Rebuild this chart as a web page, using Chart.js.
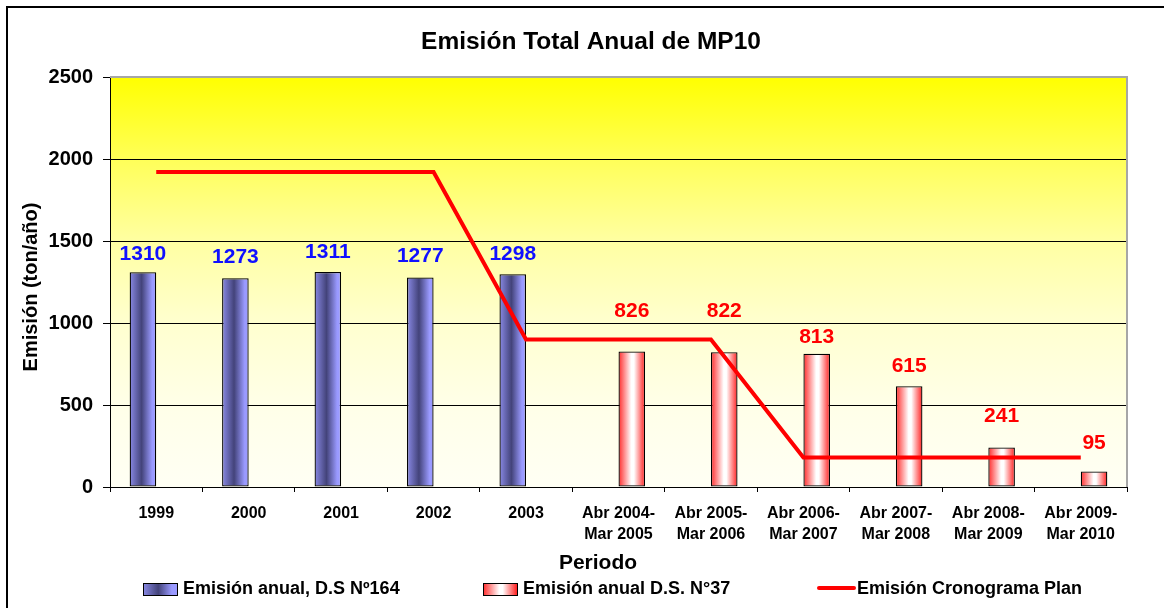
<!DOCTYPE html>
<html>
<head>
<meta charset="utf-8">
<script src="https://cdn.jsdelivr.net/npm/chart.js@4.4.1/dist/chart.umd.min.js"></script>
<style>
  html, body { margin: 0; padding: 0; background: #ffffff; }
  #wrap { width: 1164px; height: 608px; position: relative; }
</style>
</head>
<body>
<div id="wrap"><canvas id="c" width="1164" height="608"></canvas></div>
<script>
// ---- data ----
const categories = [
  '1999', '2000', '2001', '2002', '2003',
  ['Abr 2004-', 'Mar 2005'], ['Abr 2005-', 'Mar 2006'], ['Abr 2006-', 'Mar 2007'],
  ['Abr 2007-', 'Mar 2008'], ['Abr 2008-', 'Mar 2009'], ['Abr 2009-', 'Mar 2010']
];
const emisionDS164 = [1310, 1273, 1311, 1277, 1298, null, null, null, null, null, null];
const emisionDS37 = [null, null, null, null, null, 826, 822, 813, 615, 241, 95];
const cronogramaPlan = [1920, 1920, 1920, 1920, 900, 900, 900, 180, 180, 180, 180];
const seriesNames = ['Emisión anual, D.S Nº164', 'Emisión anual D.S. N°37', 'Emisión Cronograma Plan'];
const chartTitle = 'Emisión Total Anual de MP10';
const yTitle = 'Emisión (ton/año)';
const xTitle = 'Periodo';
const yMin = 0, yMax = 2500, yStep = 500;

// ---- styling helpers ----
const FONT = '"Liberation Sans", Arial, sans-serif';
// vertical lift (px) of each value label above its bar top
const labelLift = [
  [18, 21, 19.5, 21.5, 20, 0, 0, 0, 0, 0, 0],
  [0, 0, 0, 0, 0, 40, 41, 16, 20, 31, 28]
];

function blueGrad(ctx, x0, x1) {
  const g = ctx.createLinearGradient(x0, 0, x1, 0);
  g.addColorStop(0, '#8a8ae6');
  g.addColorStop(0.45, '#43437a');
  g.addColorStop(0.85, '#9a9aff');
  g.addColorStop(1, '#9a9aff');
  return g;
}
function redGrad(ctx, x0, x1) {
  const g = ctx.createLinearGradient(x0, 0, x1, 0);
  g.addColorStop(0, '#ff2a2a');
  g.addColorStop(0.48, '#ffffff');
  g.addColorStop(0.58, '#ffffff');
  g.addColorStop(1, '#ff2020');
  return g;
}

const decorPlugin = {
  id: 'decor',
  beforeDraw(chart) {
    const {ctx, chartArea: a} = chart;
    ctx.save();
    ctx.fillStyle = '#ffffff';
    ctx.fillRect(0, 0, chart.width, chart.height);
    const g = ctx.createLinearGradient(0, a.top, 0, a.bottom);
    g.addColorStop(0, '#ffff00');
    g.addColorStop(0.2, '#ffff58');
    g.addColorStop(0.4, '#ffffa2');
    g.addColorStop(0.6, '#ffffcf');
    g.addColorStop(0.8, '#ffffe8');
    g.addColorStop(1, '#fffff4');
    ctx.fillStyle = g;
    ctx.fillRect(a.left, a.top, a.right - a.left, a.bottom - a.top);
    // outer frame (left and top)
    ctx.strokeStyle = '#000000';
    ctx.lineWidth = 2;
    ctx.beginPath();
    ctx.moveTo(7, chart.height);
    ctx.lineTo(7, 7);
    ctx.lineTo(chart.width, 7);
    ctx.stroke();
    ctx.restore();
  },
  beforeDatasetsDraw(chart) {
    const {ctx, chartArea: a} = chart;
    ctx.save();
    ctx.strokeStyle = '#a6a6a6';
    ctx.lineWidth = 2;
    ctx.beginPath();
    ctx.moveTo(a.left, a.top);
    ctx.lineTo(a.right, a.top);
    ctx.lineTo(a.right, a.bottom);
    ctx.stroke();
    ctx.restore();
  },
  beforeDatasetDraw(chart, args) {
    const meta = args.meta;
    if (meta.type !== 'bar') return;
    const ctx = chart.ctx;
    meta.data.forEach((el) => {
      const p = el.getProps(['x', 'width'], true);
      if (!isFinite(p.x) || !isFinite(p.width)) return;
      const x0 = p.x - p.width / 2, x1 = p.x + p.width / 2;
      el.options.backgroundColor = args.index === 0 ? blueGrad(ctx, x0, x1) : redGrad(ctx, x0, x1);
    });
  },
  afterDatasetsDraw(chart) {
    const ctx = chart.ctx;
    const y = chart.scales.y;
    ctx.save();
    ctx.font = 'bold 21px ' + FONT;
    ctx.textAlign = 'center';
    ctx.textBaseline = 'middle';
    [0, 1].forEach((di) => {
      const meta = chart.getDatasetMeta(di);
      const data = chart.data.datasets[di].data;
      ctx.fillStyle = di === 0 ? '#1010ff' : '#ff0000';
      meta.data.forEach((el, i) => {
        const v = data[i];
        if (v === null || v === undefined) return;
        const top = y.getPixelForValue(v);
        ctx.fillText(String(v), el.x, top - labelLift[di][i]);
      });
    });
    ctx.restore();
  },
  afterDraw(chart) {
    const ctx = chart.ctx;
    ctx.save();
    ctx.fillStyle = '#000000';
    ctx.textBaseline = 'middle';
    ctx.textAlign = 'center';
    // title
    ctx.font = 'bold 24.5px ' + FONT;
    ctx.fillText(chartTitle, 591, 42);
    // x title
    ctx.font = 'bold 21px ' + FONT;
    ctx.fillText(xTitle, 598, 563);
    // y title
    ctx.save();
    ctx.translate(31, 287);
    ctx.rotate(-Math.PI / 2);
    ctx.font = 'bold 20px ' + FONT;
    ctx.fillText(yTitle, 0, 0);
    ctx.restore();
    // legend
    ctx.font = 'bold 18px ' + FONT;
    ctx.textAlign = 'left';
    const ly = 589;
    ctx.fillStyle = blueGrad(ctx, 143, 177);
    ctx.fillRect(143, 583, 34, 12);
    ctx.strokeStyle = '#000';
    ctx.lineWidth = 1;
    ctx.strokeRect(143.5, 583.5, 34, 12);
    ctx.fillStyle = '#000';
    ctx.fillText(chart.data.datasets[0].label, 183, ly);
    ctx.fillStyle = redGrad(ctx, 483, 517);
    ctx.fillRect(483, 583, 34, 12);
    ctx.strokeRect(483.5, 583.5, 34, 12);
    ctx.fillStyle = '#000';
    ctx.fillText(chart.data.datasets[1].label, 523, ly);
    ctx.strokeStyle = '#ff0000';
    ctx.lineWidth = 4;
    ctx.lineCap = 'round';
    ctx.beginPath();
    ctx.moveTo(819, 588);
    ctx.lineTo(854, 588);
    ctx.stroke();
    ctx.fillStyle = '#000';
    ctx.fillText(chart.data.datasets[2].label, 857, ly);
    ctx.restore();
  }
};

new Chart(document.getElementById('c'), {
  data: {
    labels: categories,
    datasets: [
      {
        type: 'bar', label: seriesNames[0], data: emisionDS164,
        backgroundColor: () => '#8a8ae6', borderColor: '#000000', borderWidth: 1.3,
        borderSkipped: false, order: 1
      },
      {
        type: 'bar', label: seriesNames[1], data: emisionDS37,
        backgroundColor: () => '#ff8080', borderColor: '#000000', borderWidth: 1.3,
        borderSkipped: false, order: 1
      },
      {
        type: 'line', label: seriesNames[2], data: cronogramaPlan,
        borderColor: '#ff0000', borderWidth: 4, pointRadius: 0, tension: 0,
        fill: false, order: 0, borderJoinStyle: 'miter'
      }
    ]
  },
  options: {
    responsive: false,
    animation: false,
    events: [],
    layout: { padding: { left: 8, right: 37, top: 77, bottom: 0 } },
    datasets: { bar: { categoryPercentage: 0.575, barPercentage: 1.0 } },
    plugins: {
      legend: { display: false },
      title: { display: false },
      tooltip: { enabled: false }
    },
    scales: {
      x: {
        type: 'category',
        offset: true,
        afterFit(s) { s.height = 121; },
        grid: { display: true, drawOnChartArea: false, drawTicks: true, tickLength: 5, color: '#000000', offset: true },
        border: { display: true, color: '#000000', width: 1 },
        ticks: {
          autoSkip: false, maxRotation: 0, minRotation: 0, padding: 11, color: '#000000',
          font: { family: FONT, size: 16, weight: 'bold', lineHeight: 1.3 }
        }
      },
      y: {
        min: yMin, max: yMax,
        afterFit(s) { s.width = 102; },
        grid: {
          color: (c) => (c.tick && c.tick.value === yMax ? 'rgba(0,0,0,0)' : '#000000'),
          tickColor: '#000000', tickLength: 7, lineWidth: 1
        },
        border: { display: true, color: '#000000', width: 1 },
        ticks: {
          stepSize: yStep, padding: 10, color: '#000000',
          callback: (v) => String(v),
          font: { family: FONT, size: 20, weight: 'bold' }
        }
      }
    }
  },
  plugins: [decorPlugin]
});
</script>
</body>
</html>
